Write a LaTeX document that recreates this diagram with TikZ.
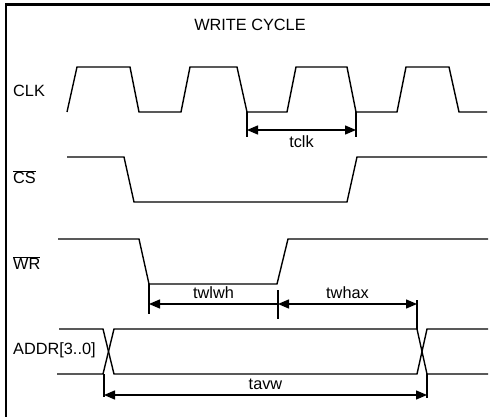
\documentclass[tikz,border=0pt]{standalone}
\usepackage{fontspec}
\setmainfont{Liberation Sans}
\usetikzlibrary{arrows.meta,positioning}

\begin{document}
\begin{tikzpicture}[x=1pt, y=-1pt, font=\fontsize{16.3}{19}\selectfont,
    wave/.style={line width=1.4pt},
    tick/.style={line width=1.2pt},
    dim/.style={line width=1.4pt, {Triangle[length=11pt,width=9pt]}-{Triangle[length=11pt,width=9pt]}},
    sig/.style={anchor=west, inner sep=0pt}]
   \useasboundingbox (0,0) rectangle (490,417);
   % frame
   \draw[line width=3pt] (490,5) -- (4.5,5);
   \draw[line width=2pt] (6,4) -- (6,417);
   \node (title) at (250,25) {WRITE CYCLE};
   \begin{scope}[every node/.style={sig}]
    \node (clk) at (13,91) {CLK};
    \node (cs) at (13,177) {$\overline{\mbox{CS}}$};
    \node (wr) at (13,263) {$\overline{\mbox{WR}}$};
    \node (addr) at (13,350) {ADDR[3..0]};
   \end{scope}
   % waveforms
   \begin{scope}[wave]
    \draw (67,112) -- (77,67) -- (130,67) -- (139,112) -- (181,112) -- (190,67) -- (237,67)
      -- (247,112) coordinate (fallA) -- (287,112) -- (296,67) -- (347,67)
      -- (356,112) coordinate (fallB) -- (397,112) -- (406,67) -- (449,67) -- (459,112) -- (487,112);
    \draw (67,157) -- (124,157) -- (134,202) -- (347,202) -- (357,157) -- (487,157);
    \draw (58,239) -- (139,239) -- (149,284) coordinate (wrlow) -- (277,284) -- (288,239) -- (488,239);
    \draw (59,329) -- (103,329) -- (114,374) -- (417,374) -- (427,329) -- (488,329);
    \draw (57,374) coordinate (addrA) -- (103,374) -- (114,329) -- (417,329) coordinate (addrB)
      -- (427,374) coordinate (addrC) -- (488,374);
   \end{scope}
   % timing marks
   \coordinate (wrhigh) at (278,290);
   \coordinate (addrX) at (104,374);
   \draw[tick] (fallA) -- ++(0,25);
   \draw[tick] (fallB) -- ++(0,25);
   \draw[tick] (wrlow) -- ++(0,30);
   \draw[tick] (wrhigh) -- ++(0,29);
   \draw[tick] (addrB) -- ++(0,-29);
   \draw[tick] (addrX) -- ++(0,23);
   \draw[tick] (addrC) -- ++(0,24);
   \draw[dim] (fallA |- 0,130) -- node[below=2pt] (tclk) {tclk} (fallB |- 0,130);
   \draw[dim, {Triangle[length=11pt,width=9pt]}-] (wrlow |- 0,304) -- node[above=1pt] (twlwh) {twlwh} (wrhigh |- 0,304);
   \draw[dim] (wrhigh |- 0,304) -- node[above=1pt] (twhax) {twhax} (addrB |- 0,304);
   \draw[dim] (addrX |- 0,395) -- node[above=1pt] (tavw) {tavw} (addrC |- 0,395);
\end{tikzpicture}
\end{document}
